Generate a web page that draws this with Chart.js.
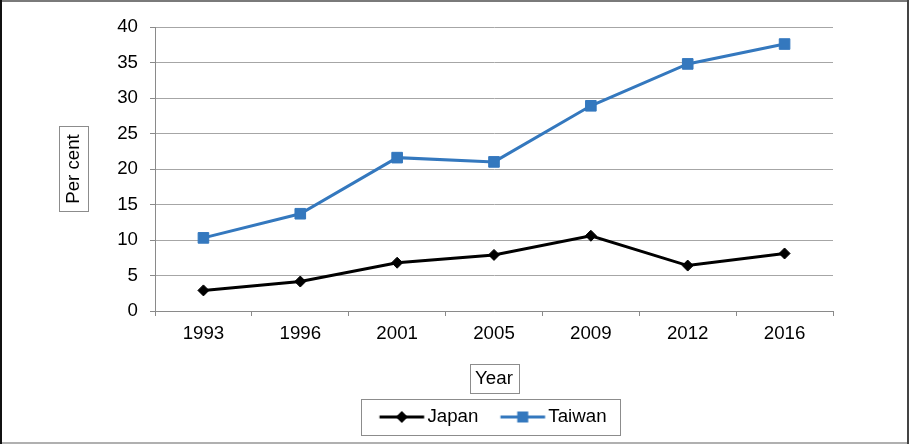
<!DOCTYPE html>
<html>
<head>
<meta charset="utf-8">
<script src="https://cdn.jsdelivr.net/npm/chart.js@4.4.1/dist/chart.umd.min.js"></script>
<style>
html,body{margin:0;padding:0;background:#fff;}
canvas{display:block;}
</style>
</head>
<body>
<canvas id="c" width="909" height="444"></canvas>
<script>
// ---- data ----
const years = ['1993', '1996', '2001', '2005', '2009', '2012', '2016'];
const japan = [2.9, 4.15, 6.8, 7.9, 10.6, 6.4, 8.1];
const taiwan = [10.3, 13.7, 21.6, 21.0, 28.9, 34.8, 37.6];
const seriesNames = ['Japan', 'Taiwan'];
const yMin = 0, yMax = 40, yStep = 5;
const xTitle = 'Year';
const yTitle = 'Per cent';

// ---- styles ----
const FONT = "'Liberation Sans', Arial, sans-serif";
const FS = 18.7;
const JAPAN_COLOR = '#000000';
const TAIWAN_COLOR = '#3478be';
const GRID = '#a6a6a6';
const AXIS = '#8a8a8a';
const BOXC = '#8c8c8c';
const LEG_PAD = 10;
const LEG_BOX = 50.65;

Chart.defaults.font.family = FONT;
Chart.defaults.font.size = FS;
Chart.defaults.color = '#000';

function legendImage(color, style) {
  const c = document.createElement('canvas');
  c.width = 64; c.height = 16;
  const g = c.getContext('2d');
  g.strokeStyle = color; g.lineWidth = 3;
  g.beginPath(); g.moveTo(18.7, 8); g.lineTo(63.3, 8); g.stroke();
  const cx = 41;
  g.fillStyle = color;
  g.beginPath();
  if (style === 'diamond') {
    g.moveTo(cx - 6, 8); g.lineTo(cx, 2); g.lineTo(cx + 6, 8); g.lineTo(cx, 14); g.closePath();
  } else {
    g.rect(cx - 5.5, 2.5, 11, 11);
  }
  g.fill();
  return c;
}
const legendImgs = [legendImage(JAPAN_COLOR, 'diamond'), legendImage(TAIWAN_COLOR, 'square')];

const decor = {
  id: 'decor',
  afterLayout(chart) {
    const L = chart.legend;
    if (L) { L.left -= 7; L.right -= 7; }
  },
  afterDraw(chart) {
    const ctx = chart.ctx;
    const ca = chart.chartArea;
    ctx.save();
    ctx.lineWidth = 1;
    ctx.strokeStyle = BOXC;
    ctx.font = FS + 'px ' + FONT;
    // y title box
    const ys = chart.scales.y;
    const ycx = ys.left + 62.3 + FS * 1.2 / 2;
    const ycy = (ca.top + ca.bottom) / 2;
    const yw = ctx.measureText(yTitle).width;
    ctx.strokeRect(Math.round(ycx - 14.5) + 0.5, Math.round(ycy - yw / 2 - 8) + 0.5, 29, Math.round(yw + 15));
    // x title box
    const xs = chart.scales.x;
    const xcx = (ca.left + ca.right) / 2;
    const xcy = xs.bottom - 7.9 - FS * 1.2 / 2;
    const xw = ctx.measureText(xTitle).width;
    ctx.strokeRect(Math.round(xcx - xw / 2 - 5.5) + 0.5, Math.round(xcy - 14.5) + 0.5, Math.round(xw + 11), 29);
    // legend box
    const L = chart.legend;
    const hb = L.legendHitBoxes;
    const total = hb.reduce((s, h) => s + h.width + LEG_PAD, 0);
    const x0 = (L.left + LEG_PAD + L.right - total) / 2;
    const right = x0 + total - LEG_PAD;
    const rowC = L.top + LEG_PAD + FS / 2;
    ctx.strokeRect(Math.round(x0 - 6) + 0.5, Math.round(rowC - 18) + 0.5, Math.round(right + 14 - (x0 - 6)), 36);
    // outer frame
    ctx.fillStyle = '#7a7a7a'; ctx.fillRect(0, 0, 909, 2);
    ctx.fillStyle = '#b0b0b0'; ctx.fillRect(0, 442, 909, 2);
    ctx.fillStyle = '#111'; ctx.fillRect(0, 0, 2, 444);
    ctx.fillStyle = '#444'; ctx.fillRect(907, 0, 2, 444);
    ctx.restore();
  }
};

new Chart(document.getElementById('c'), {
  type: 'line',
  data: {
    labels: years,
    datasets: [
      {
        label: seriesNames[0], data: japan,
        borderColor: JAPAN_COLOR, backgroundColor: JAPAN_COLOR, borderWidth: 3,
        pointStyle: 'rectRot', pointRadius: 5.5, pointBorderWidth: 1,
        pointBackgroundColor: JAPAN_COLOR, pointBorderColor: JAPAN_COLOR,
        tension: 0, fill: false
      },
      {
        label: seriesNames[1], data: taiwan,
        borderColor: TAIWAN_COLOR, backgroundColor: TAIWAN_COLOR, borderWidth: 3,
        pointStyle: 'rect', pointRadius: 7.5, pointBorderWidth: 1,
        pointBackgroundColor: TAIWAN_COLOR, pointBorderColor: TAIWAN_COLOR,
        tension: 0, fill: false
      }
    ]
  },
  options: {
    responsive: false,
    devicePixelRatio: 1,
    animation: false,
    layout: { padding: { left: 0, right: 76, top: 27, bottom: 7.65 } },
    plugins: {
      tooltip: { enabled: false },
      legend: {
        position: 'bottom',
        fullSize: false,
        labels: {
          usePointStyle: true,
          pointStyleWidth: LEG_BOX,
          padding: LEG_PAD,
          color: '#000',
          font: { size: FS, family: FONT },
          generateLabels(chart) {
            const items = Chart.defaults.plugins.legend.labels.generateLabels(chart);
            items.forEach((it, i) => { it.pointStyle = legendImgs[i]; });
            return items;
          }
        }
      }
    },
    scales: {
      x: {
        offset: true,
        grid: { display: true, drawOnChartArea: false, drawTicks: true, tickLength: 5, tickColor: AXIS, offset: true },
        border: { display: true, color: AXIS, width: 1 },
        ticks: { padding: 6.8, color: '#000', font: { size: FS }, maxRotation: 0 },
        title: { display: true, text: xTitle, color: '#000', font: { size: FS }, padding: { top: 0, bottom: 7.9 } },
        afterFit(s) { s.height = 86.65; }
      },
      y: {
        min: yMin, max: yMax,
        grid: { color: GRID, drawTicks: true, tickLength: 5, tickColor: AXIS },
        border: { display: true, color: AXIS, width: 1 },
        ticks: { stepSize: yStep, padding: 12, color: '#000', font: { size: FS } },
        title: { display: true, text: yTitle, color: '#000', font: { size: FS }, padding: { top: 62.3, bottom: 0 } },
        afterFit(s) { s.width = 155; }
      }
    }
  },
  plugins: [decor]
});
</script>
</body>
</html>
